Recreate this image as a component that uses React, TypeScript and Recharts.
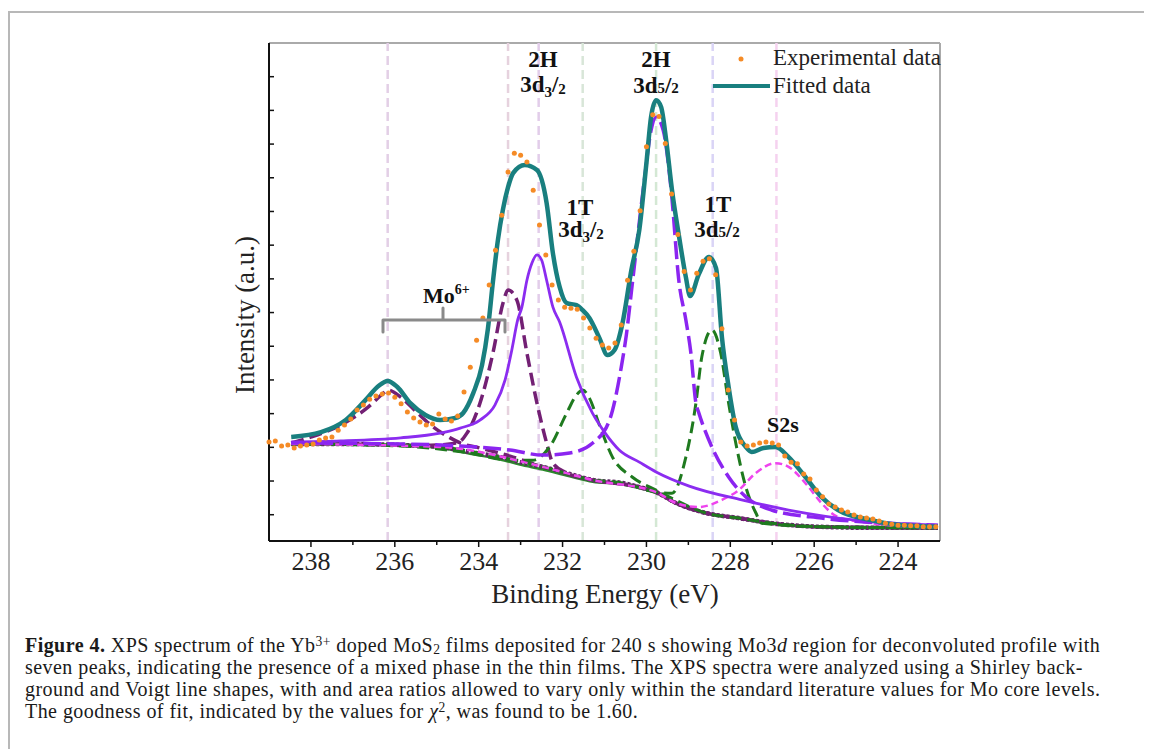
import { LineChart, Line, XAxis, YAxis, ReferenceLine } from "recharts";

const SERIF = '"Liberation Serif", "Times New Roman", serif';

// x axis (binding energy, eV) and y axis ticks
const xTicks = [224, 225, 226, 227, 228, 229, 230, 231, 232, 233, 234, 235, 236, 237, 238];
const yTicks = [780, 1780, 2780, 3780, 4780, 5780, 6780, 7780, 8780, 9780, 10780, 11780, 12780, 13780];

// peak centres of the seven components (eV) and the colour of their guide lines
const peakCenters = [236.17, 233.3, 232.57, 231.52, 229.77, 228.42, 226.9];
const peakLineColors = ["#e3cfe6", "#e6d2de", "#e2cdea", "#d8e6d8", "#d4e8d4", "#dad4f6", "#f5d2ef"];

// [binding energy, intensity]
const experimental = [
  [239.0, 2940], [238.85, 2970], [238.7, 2820], [238.55, 2850], [238.4, 2760], [238.25, 2820],
  [238.1, 2850], [237.95, 2880], [237.8, 3000], [237.65, 3060], [237.5, 3090], [237.35, 3290],
  [237.2, 3440], [237.05, 3620], [236.9, 3890], [236.75, 4040], [236.6, 4210], [236.45, 4300],
  [236.3, 4360], [236.15, 4390], [236.0, 4270], [235.85, 4070], [235.7, 3830], [235.55, 3650],
  [235.4, 3530], [235.25, 3440], [235.1, 3470], [234.95, 3770], [234.8, 3620], [234.65, 3560],
  [234.5, 3710], [234.35, 4420], [234.2, 5160], [234.05, 5960], [233.9, 6620], [233.75, 7600],
  [233.6, 8630], [233.45, 9670], [233.3, 10950], [233.15, 11510], [233.0, 11450], [232.85, 11250],
  [232.7, 10410], [232.55, 9380], [232.4, 8490], [232.25, 7600], [232.1, 7150], [231.95, 6940],
  [231.8, 6910], [231.65, 6880], [231.5, 6620], [231.35, 6320], [231.2, 6020], [231.05, 5820],
  [230.9, 5730], [230.75, 5880], [230.6, 6410], [230.45, 7740], [230.3, 8600], [230.15, 9800],
  [230.0, 11700], [229.85, 12650], [229.7, 12600], [229.55, 11800], [229.4, 10300], [229.25, 9100],
  [229.1, 8000], [228.95, 7450], [228.8, 7950], [228.65, 8300], [228.5, 8380], [228.35, 7900],
  [228.2, 6300], [228.05, 4480], [227.9, 3590], [227.75, 2940], [227.6, 2820], [227.45, 2850],
  [227.3, 2910], [227.15, 2940], [227.0, 2910], [226.85, 2850], [226.7, 2520], [226.55, 2340],
  [226.4, 2290], [226.25, 1990], [226.1, 1840], [225.95, 1510], [225.8, 1310], [225.65, 1100],
  [225.5, 1010], [225.35, 920], [225.2, 860], [225.05, 770], [224.9, 710], [224.75, 680],
  [224.6, 650], [224.45, 590], [224.3, 530], [224.15, 500], [224.0, 470], [223.85, 470],
  [223.7, 450], [223.55, 450], [223.4, 420], [223.25, 420], [223.1, 420],
];

const fitted = [
  [238.47, 3090], [237.76, 3230], [237.17, 3590], [236.7, 4180], [236.39, 4600], [236.17, 4750],
  [235.94, 4570], [235.63, 4090], [235.27, 3740], [234.92, 3590], [234.56, 3650], [234.37, 3800],
  [234.13, 4390], [233.92, 5220], [233.78, 6300], [233.66, 7700], [233.54, 8950], [233.42, 9850],
  [233.3, 10500], [233.18, 10920], [232.9, 11160], [232.61, 11010], [232.38, 10030], [232.23, 8540],
  [232.07, 7540], [231.9, 7060], [231.67, 7000], [231.52, 6850], [231.36, 6620], [231.12, 6020],
  [230.93, 5520], [230.76, 5670], [230.57, 6470], [230.36, 8040], [230.17, 9230], [230.0, 11220],
  [229.89, 12580], [229.77, 13080], [229.65, 12880], [229.53, 11900], [229.39, 10410], [229.22, 9020],
  [229.06, 7830], [228.96, 7270], [228.75, 7920], [228.51, 8430], [228.34, 8100], [228.2, 6050],
  [228.04, 4570], [227.87, 3380], [227.63, 2790], [227.49, 2640], [227.21, 2760], [226.92, 2790],
  [226.61, 2490], [226.21, 1900], [225.83, 1310], [225.43, 920], [224.64, 620], [224.0, 480],
  [223.05, 420],
];

// Shirley background
const background = [
  [238.47, 2880], [237.29, 2880], [235.86, 2850], [234.92, 2790], [234.21, 2640], [233.49, 2490],
  [233.02, 2340], [232.47, 2200], [231.83, 1990], [231.28, 1810], [230.57, 1720], [230.17, 1600],
  [229.77, 1450], [229.3, 1130], [228.58, 830], [227.8, 680], [227.02, 530], [225.83, 420],
  [224.48, 390], [223.05, 390],
];

const background1T = [
  [238.47, 2860], [237.29, 2860], [235.86, 2830], [234.92, 2760], [234.21, 2590], [233.49, 2420],
  [233.02, 2270], [232.47, 2120], [231.83, 1920], [231.28, 1760], [230.57, 1680], [230.17, 1570],
  [229.77, 1430], [229.3, 1110], [228.58, 820], [227.8, 670], [227.02, 520], [225.83, 410],
  [224.48, 380], [223.05, 380],
];

// Mo6+ doublet
const mo6_3d32 = [
  [238.47, 2910], [237.99, 3090], [237.2, 3500], [236.63, 3980], [236.27, 4390], [236.17, 4480],
  [235.86, 4270], [235.46, 3800], [235.08, 3380], [234.68, 3060], [234.44, 2910], [233.97, 2760],
  [233.25, 2520], [232.47, 2200], [231.28, 1810], [230.17, 1600], [229.77, 1450], [229.3, 1130],
  [228.58, 830], [227.8, 680], [227.02, 530], [225.83, 420], [223.05, 390],
];

const mo6_3d52 = [
  [238.47, 2880], [236.34, 2870], [235.39, 2830], [234.51, 2910], [234.28, 3200], [233.97, 4090],
  [233.66, 5580], [233.42, 7060], [233.3, 7450], [233.09, 7150], [232.85, 5580], [232.61, 4090],
  [232.38, 2910], [232.23, 2310], [231.9, 2020], [231.28, 1810], [230.17, 1600], [229.77, 1450],
  [229.3, 1130], [228.58, 830], [227.8, 680], [227.02, 530], [225.83, 420], [223.05, 390],
];

// 2H phase
const h2_3d32 = [
  [238.47, 2940], [237.29, 2970], [235.86, 3060], [234.92, 3200], [234.44, 3350], [233.97, 3590],
  [233.61, 4040], [233.37, 4780], [233.21, 5670], [233.07, 6560], [232.97, 6940], [232.85, 7740],
  [232.73, 8250], [232.61, 8490], [232.5, 8340], [232.38, 7740], [232.23, 6940], [232.07, 6500],
  [231.67, 4870], [231.29, 3800], [231.0, 3230], [230.65, 2700], [230.17, 2340], [229.77, 2050],
  [228.98, 1630], [227.73, 1220], [226.61, 920], [225.02, 620], [223.05, 470],
];

const h2_3d52 = [
  [238.47, 2910], [235.86, 2880], [234.44, 2820], [233.26, 2700], [232.47, 2550], [231.83, 2610],
  [231.28, 2910], [230.88, 3590], [230.6, 5160], [230.48, 6110], [230.34, 7600], [230.05, 10710],
  [229.89, 12190], [229.77, 12580], [229.6, 12190], [229.41, 10410], [229.22, 7650], [229.06, 6560],
  [228.94, 5580], [228.82, 4090], [228.75, 3800], [228.44, 2790], [228.04, 1900], [227.63, 1310],
  [227.02, 920], [225.83, 680], [223.05, 470],
];

// 1T phase
const t1_3d32 = [
  [238.47, 2880], [235.86, 2820], [234.21, 2610], [233.26, 2400], [232.71, 2400], [232.31, 2790],
  [231.9, 3800], [231.67, 4330], [231.52, 4480], [231.36, 4240], [231.12, 3440], [230.81, 2490],
  [230.34, 1900], [229.77, 1510], [229.46, 1310], [228.58, 830], [227.8, 680], [227.02, 530],
  [225.83, 420], [223.05, 390],
];

const t1_3d52 = [
  [238.47, 2880], [235.86, 2850], [234.92, 2790], [233.49, 2490], [232.47, 2200], [231.28, 1810],
  [230.57, 1720], [229.77, 1450], [229.39, 1420], [229.06, 2490], [228.82, 4090], [228.68, 5460],
  [228.44, 6260], [228.23, 5580], [228.04, 4090], [227.87, 2910], [227.63, 1600], [227.39, 830],
  [227.25, 530], [225.83, 420], [223.05, 390],
];

// S 2s
const s2s = [
  [238.47, 2880], [234.92, 2790], [232.47, 2200], [231.28, 1810], [229.77, 1450], [229.3, 1130],
  [228.75, 1010], [228.2, 1220], [227.8, 1510], [227.39, 2020], [226.92, 2310], [226.61, 2200],
  [226.21, 1720], [225.83, 1130], [225.43, 710], [224.64, 530], [223.05, 390],
];

const toPts = (arr: number[][]) => arr.map(([e, v]) => ({ e, v }));

const XTick = (props: any) => {
  const { x, y, payload } = props;
  const major = payload.value % 2 === 0;
  return (
    <g>
      <line x1={x} x2={x} y1={y} y2={y + (major ? 6 : 4)} stroke="#111" strokeWidth={1.5} />
      {major && (
        <text x={x} y={y + 29} textAnchor="middle" fontSize={26} fill="#222" fontFamily={SERIF}>
          {payload.value}
        </text>
      )}
    </g>
  );
};

const YTick = (props: any) => {
  const { x, y } = props;
  return <line x1={x} x2={x + 5} y1={y} y2={y} stroke="#111" strokeWidth={1.5} />;
};

const Sub = ({ children, dy = 0 }: any) => (
  <tspan fontSize={15} dy={dy}>
    {children}
  </tspan>
);

const supStyle: any = { fontSize: "0.68em", position: "relative", top: "-0.45em", lineHeight: 0 };
const subStyle: any = { fontSize: "0.68em", position: "relative", top: "0.12em", lineHeight: 0 };

export default function App() {
  const comp = (data: number[][], color: string, width: number, dash?: string) => (
    <Line
      data={toPts(data)}
      dataKey="v"
      type="monotone"
      stroke={color}
      strokeWidth={width}
      strokeDasharray={dash}
      dot={false}
      activeDot={false}
      isAnimationActive={false}
    />
  );

  return (
    <div style={{ position: "relative", width: 1136, height: 741, fontFamily: SERIF }}>
      {/* figure frame */}
      <div style={{ position: "absolute", left: 0, top: 3, width: 2, height: 738, background: "#b8b8b8" }} />
      <div style={{ position: "absolute", left: 0, top: 3, width: 1136, height: 2, background: "#b8b8b8" }} />

      <div style={{ position: "absolute", left: 0, top: 0 }}>
        <LineChart width={1136} height={620} margin={{ top: 35, right: 204, bottom: 27, left: 260 }}>
          <XAxis
            dataKey="e"
            type="number"
            domain={[223, 239]}
            reversed
            ticks={xTicks}
            interval={0}
            tickSize={0}
            tickMargin={0}
            tickLine={false}
            tick={XTick}
            height={60}
            axisLine={{ stroke: "#111", strokeWidth: 2 }}
          />
          <YAxis
            type="number"
            domain={[0, 14780]}
            ticks={yTicks}
            interval={0}
            tickSize={0}
            tickMargin={0}
            tickLine={false}
            tick={YTick}
            width={1}
            axisLine={{ stroke: "#111", strokeWidth: 2 }}
          />
          <ReferenceLine y={14780} stroke="#aaa" strokeWidth={2} />
          <ReferenceLine x={223} stroke="#aaa" strokeWidth={2} />
          {peakCenters.map((c, i) => (
            <ReferenceLine key={c} x={c} stroke={peakLineColors[i]} strokeWidth={2.5} strokeDasharray="9 5" />
          ))}

          {comp(background1T, "#2c8a2c", 2.5)}
          {comp(background, "#5e2463", 4.5, "3 2")}
          {comp(mo6_3d32, "#732074", 3.5, "13 6")}
          {comp(mo6_3d52, "#732074", 3.5, "13 6")}
          {comp(t1_3d32, "#1f7a1f", 3, "12 6")}
          {comp(t1_3d52, "#1f7a1f", 3, "12 6")}
          {comp(s2s, "#ee44ee", 2.5, "7 4")}
          {comp(h2_3d32, "#8b2cf0", 2.8)}
          {comp(h2_3d52, "#8b25f0", 3.5, "18 6")}
          {comp(fitted, "#197f7f", 4.5)}
          <Line
            data={toPts(experimental)}
            dataKey="v"
            stroke="none"
            dot={{ r: 2.5, fill: "#f58b26", stroke: "none" }}
            activeDot={false}
            isAnimationActive={false}
          />
        </LineChart>
      </div>

      {/* annotations, legend, axis titles */}
      <svg
        width={1136}
        height={620}
        style={{ position: "absolute", left: 0, top: 0, pointerEvents: "none" }}
        fontFamily={SERIF}
      >
        <g fontWeight="bold" fontSize={23} fill="#111" textAnchor="middle">
          <text x={535} y={59}>2H</text>
          <text x={535} y={84}>
            3d<Sub dy={5}>3</Sub>
            <tspan dy={-5}>/</tspan>
            <Sub dy={2}>2</Sub>
          </text>
          <text x={648} y={59}>2H</text>
          <text x={648} y={85}>
            3d<Sub>5</Sub>/<Sub>2</Sub>
          </text>
          <text x={572} y={207}>1T</text>
          <text x={573} y={229}>
            3d<Sub dy={5}>3</Sub>
            <tspan dy={-5}>/</tspan>
            <Sub dy={2}>2</Sub>
          </text>
          <text x={710} y={204}>1T</text>
          <text x={709} y={229}>
            3d<Sub>5</Sub>/<Sub>2</Sub>
          </text>
          <text x={775} y={424} fontSize={22}>S2s</text>
        </g>
        <text x={415} y={295} fontWeight="bold" fontSize={22} fill="#111">
          Mo<tspan fontSize={14} dy={-9}>6+</tspan>
        </text>
        <path
          d="M375,324 V312 H497 V324 M435,312 V300"
          fill="none"
          stroke="#8a8a8a"
          strokeWidth={3}
          strokeLinejoin="round"
          strokeLinecap="round"
        />

        <circle cx={733} cy={51} r={2.5} fill="#f58b26" />
        <text x={765} y={57} fontSize={23} fill="#222">Experimental data</text>
        <line x1={705} x2={762} y1={78} y2={78} stroke="#197f7f" strokeWidth={4} />
        <text x={765} y={85} fontSize={23} fill="#222">Fitted data</text>

        <text
          x={237}
          y={307}
          fontSize={27}
          fill="#222"
          textAnchor="middle"
          dominantBaseline="central"
          transform="rotate(-90 237 307)"
        >
          Intensity (a.u.)
        </text>
        <text x={597} y={595} fontSize={27} fill="#222" textAnchor="middle">
          Binding Energy (eV)
        </text>
      </svg>

      {/* caption */}
      <div
        style={{
          position: "absolute",
          left: 17,
          top: 626,
          fontSize: 20,
          letterSpacing: "0.45px",
          lineHeight: "22px",
          color: "#1a1a1a",
          whiteSpace: "nowrap",
        }}
      >
        <div>
          <b>Figure 4.</b> XPS spectrum of the Yb<span style={supStyle}>3+</span> doped MoS
          <span style={subStyle}>2</span> films deposited for 240 s showing Mo3<i>d</i> region for deconvoluted
          profile with
        </div>
        <div>
          seven peaks, indicating the presence of a mixed phase in the thin films. The XPS spectra were analyzed using a
          Shirley back-
        </div>
        <div>
          ground and Voigt line shapes, with and area ratios allowed to vary only within the standard literature values
          for Mo core levels.
        </div>
        <div>
          The goodness of fit, indicated by the values for <i>χ</i>
          <span style={supStyle}>2</span>, was found to be 1.60.
        </div>
      </div>
    </div>
  );
}
